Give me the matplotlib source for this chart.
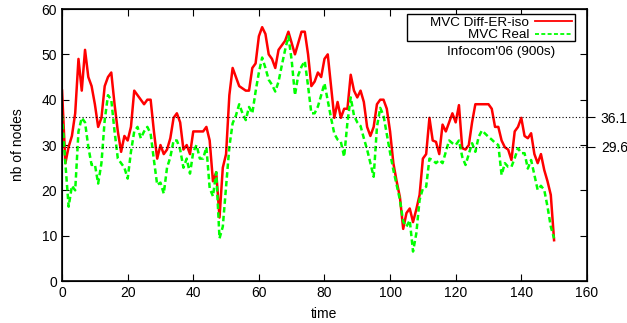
import numpy as np
import matplotlib
matplotlib.use("Agg")
import matplotlib.pyplot as plt
from matplotlib.patches import Rectangle

plt.rcParams['font.family'] = ['Liberation Sans', 'DejaVu Sans']

# one sample per time step, 0..150
mvc_diff = [42, 26, 29.6, 32, 37, 49, 42, 51, 45, 43,
            39, 34, 36, 43, 45, 46, 39, 33, 28.5, 32,
            31, 34, 42, 41, 40, 39, 40, 40, 33, 27,
            30, 28, 29, 31.5, 36, 37, 35, 29, 30, 28,
            33, 33, 33, 33, 34, 31, 22, 24, 14, 25,
            28, 41, 47, 45, 43, 42.5, 42, 42, 47, 48,
            54, 56, 54.5, 50, 49, 47, 51, 52, 53, 55,
            52.5, 50, 52.5, 55, 55, 50, 43, 44, 46, 45,
            49, 50, 43, 36, 39.5, 36, 38, 38, 45.5, 42,
            40.5, 42, 39.5, 34, 32, 34, 39, 40, 40, 38,
            33, 26, 22, 18.5, 11.5, 15, 16, 13, 15.8, 19,
            27, 28, 36, 31, 30.7, 28, 34.5, 33, 35, 37,
            35, 38.8, 29.3, 29, 30, 35, 39, 39, 39, 39,
            39, 38, 34, 34, 31, 29.5, 29, 26.7, 33, 34,
            36, 32, 31.5, 32.6, 28, 26, 28, 24.5, 22, 19,
            9]

mvc_real = [36.6, 26, 16.4, 21, 20, 33, 36, 35, 29.6, 25.6,
            25.7, 21.5, 26, 35.5, 41, 40, 33, 27, 26, 25,
            22.6, 28.5, 33, 34, 31.5, 33, 34, 32.5, 26.7, 21.2,
            21.7, 19.3, 25, 27.3, 31, 31, 29, 25, 27, 23.7,
            28.5, 30, 27, 27, 29.5, 20.5, 18.7, 24, 9.4, 12,
            20.8, 29.6, 34.8, 36.5, 39, 37, 35.5, 38.4, 37, 41.8,
            46, 49.3, 47, 44.4, 43.3, 41.8, 44, 47.6, 51, 54,
            48.7, 41, 45.4, 47.3, 48.5, 43, 37, 37, 38.5, 41,
            43.6, 39.8, 36, 32.5, 31.2, 30.7, 27.4, 35, 40.5, 36.5,
            35, 34.2, 31.5, 29, 26, 23, 34, 38.2, 36.5, 32.4,
            28.3, 24.5, 21.2, 17.9, 13.1, 12, 13.4, 6.5, 10.5, 17.9,
            20.4, 20.8, 27, 26.7, 26, 26.7, 26, 28.5, 31, 30.4,
            30, 31, 27.4, 25.6, 28, 30.4, 28.5, 31.8, 33.2, 32.5,
            31.8, 31.2, 30.5, 30, 23.4, 26, 25.2, 25.2, 27.1, 29.3,
            28.2, 28.2, 24.8, 26.7, 23.4, 20.1, 21, 20.1, 16.4, 12,
            9.4]

time = np.arange(len(mvc_diff))
ref_levels = [29.6, 36.1]

fig = plt.figure(figsize=(6.27, 3.23), dpi=100)
ax = fig.add_axes([0.099, 0.130, 0.837, 0.842])

ax.plot(time, mvc_diff, color='#ff0000', lw=1.8, label='MVC Diff-ER-iso')
ax.plot(time, mvc_real, color='#00ff00', lw=1.8, ls=(0, (2.2, 1.3)), label='MVC Real')

ax.set_xlim(0, 160)
ax.set_ylim(0, 60)
ax.set_xticks(range(0, 161, 20))
ax.set_yticks(range(0, 61, 10))
ax.set_xlabel('time', fontsize=10, labelpad=5)
ax.set_ylabel('nb of nodes', fontsize=10, labelpad=12)

# second axis holds the two reference levels
ax2 = ax.twinx()
ax2.set_ylim(0, 60)
ax2.set_yticks(ref_levels)
ax2.set_yticklabels([f'{v:.1f}' for v in ref_levels])
ax2.tick_params(axis='y', direction='out', length=6, width=0.8, labelsize=10, pad=4)
ax2.grid(axis='y', color='black', ls=(0, (1, 2)), lw=0.8)

ax.tick_params(direction='in', length=5, width=0.8, labelsize=10,
               top=True, right=True, bottom=True, left=True)
for sp in ax.spines.values():
    sp.set_linewidth(1.2)

# gnuplot style key: box drawn by hand, text right-justified before the sample
ax.add_patch(Rectangle((0.657, 0.883), 0.320, 0.099, transform=ax.transAxes,
                       fill=True, facecolor='white', edgecolor='black', lw=1.0, zorder=4))
leg = ax.legend(loc='upper right', bbox_to_anchor=(0.972, 0.973), borderaxespad=0,
                markerfirst=False, frameon=False,
                fontsize=9.7, handlelength=2.75, handletextpad=0.45,
                labelspacing=0.0, borderpad=0.0)
leg.set_zorder(5)
for h in leg.get_lines():
    h.set_linewidth(1.3)

ax.text(0.939, 0.843, "Infocom'06 (900s)", transform=ax.transAxes,
        ha='right', va='center', fontsize=9.7)

fig.savefig('out.png', dpi=100)
